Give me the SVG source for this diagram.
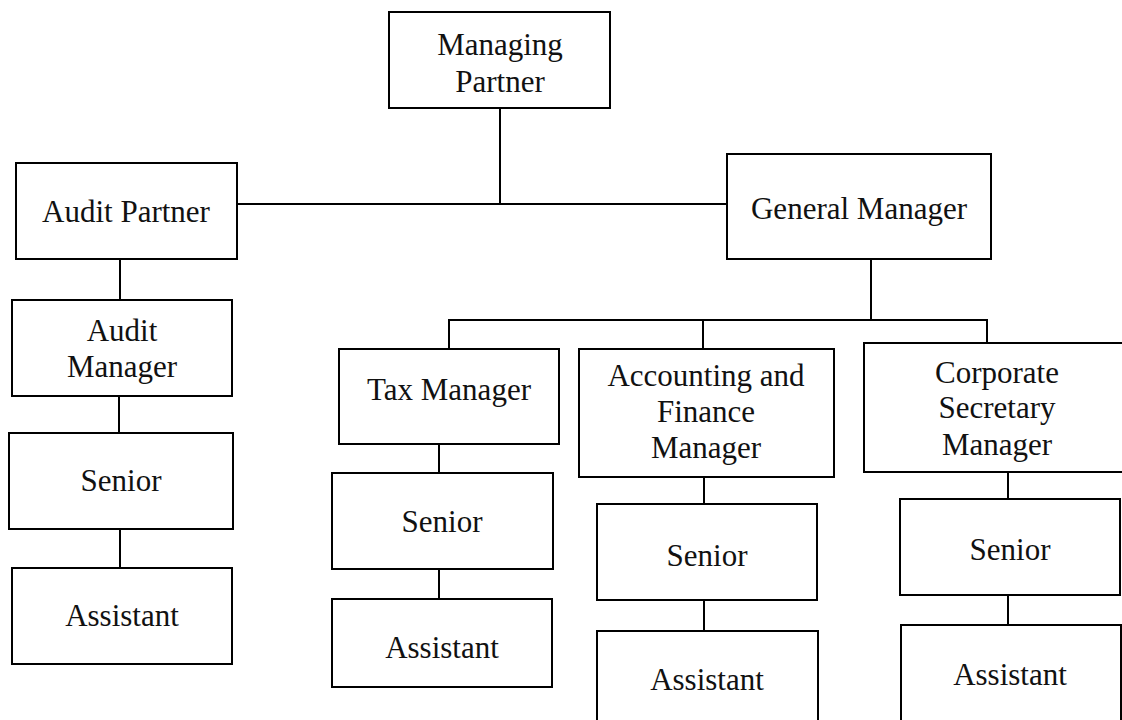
<svg xmlns="http://www.w3.org/2000/svg" width="1122" height="720" viewBox="0 0 1122 720">
<style>
rect{fill:#fff;stroke:#000;stroke-width:2}
text{font-family:"Liberation Serif","Times New Roman",serif;font-size:31px;fill:#111;text-anchor:middle}
#connectors line{stroke:#000;stroke-width:2}
</style>
<rect x="0" y="0" width="1122" height="720" style="stroke:none"/>
<g id="connectors">
<line x1="500" y1="108" x2="500" y2="204"/>
<line x1="237" y1="204" x2="727" y2="204"/>
<line x1="120" y1="259" x2="120" y2="300"/>
<line x1="119" y1="396" x2="119" y2="433"/>
<line x1="120" y1="529" x2="120" y2="568"/>
<line x1="871" y1="259" x2="871" y2="320"/>
<line x1="448" y1="320" x2="988" y2="320"/>
<line x1="449" y1="320" x2="449" y2="349"/>
<line x1="703" y1="320" x2="703" y2="349"/>
<line x1="987" y1="320" x2="987" y2="343"/>
<line x1="439" y1="444" x2="439" y2="473"/>
<line x1="439" y1="569" x2="439" y2="599"/>
<line x1="704" y1="477" x2="704" y2="504"/>
<line x1="704" y1="600" x2="704" y2="631"/>
<line x1="1008" y1="472" x2="1008" y2="499"/>
<line x1="1008" y1="595" x2="1008" y2="625"/>
</g>
<g id="managing-partner"><rect x="389" y="12" width="221" height="96"/><text x="500" y="55">Managing</text><text x="500" y="92">Partner</text></g>
<g id="audit-partner"><rect x="16" y="163" width="221" height="96"/><text x="126" y="222">Audit Partner</text></g>
<g id="audit-manager"><rect x="12" y="300" width="220" height="96"/><text x="122" y="341">Audit</text><text x="122" y="377">Manager</text></g>
<g id="audit-senior"><rect x="9" y="433" width="224" height="96"/><text x="121" y="491">Senior</text></g>
<g id="audit-assistant"><rect x="12" y="568" width="220" height="96"/><text x="122" y="626">Assistant</text></g>
<g id="general-manager"><rect x="727" y="154" width="264" height="105"/><text x="859" y="219">General Manager</text></g>
<g id="tax-manager"><rect x="339" y="349" width="220" height="95"/><text x="449" y="400">Tax Manager</text></g>
<g id="tax-senior"><rect x="332" y="473" width="221" height="96"/><text x="442" y="532">Senior</text></g>
<g id="tax-assistant"><rect x="332" y="599" width="220" height="88"/><text x="442" y="658">Assistant</text></g>
<g id="accounting-manager"><rect x="579" y="349" width="255" height="128"/><text x="706" y="386">Accounting and</text><text x="706" y="422">Finance</text><text x="706" y="458">Manager</text></g>
<g id="accounting-senior"><rect x="597" y="504" width="220" height="96"/><text x="707" y="566">Senior</text></g>
<g id="accounting-assistant"><rect x="597" y="631" width="221" height="100"/><text x="707" y="690">Assistant</text></g>
<g id="corporate-manager"><rect x="864" y="343" width="270" height="129"/><text x="997" y="383">Corporate</text><text x="997" y="418">Secretary</text><text x="997" y="455">Manager</text></g>
<g id="corporate-senior"><rect x="900" y="499" width="220" height="96"/><text x="1010" y="560">Senior</text></g>
<g id="corporate-assistant"><rect x="901" y="625" width="220" height="105"/><text x="1010" y="685">Assistant</text></g>
</svg>
